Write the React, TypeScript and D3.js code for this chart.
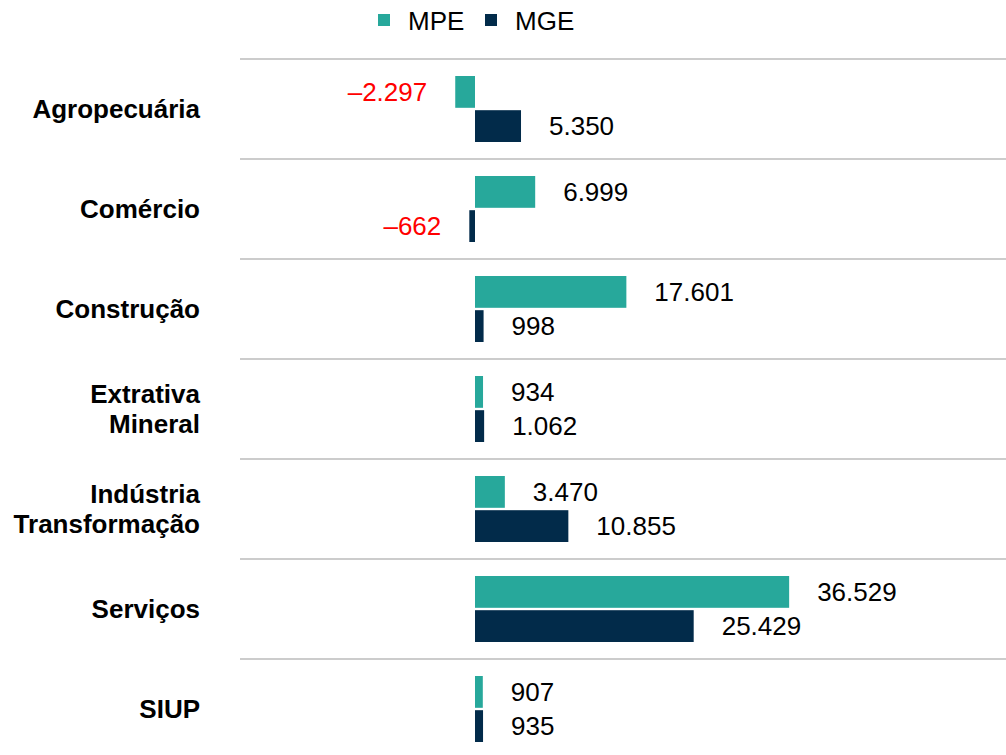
import React from 'react';
import * as d3 from 'd3';

const categories = [
  ['Agropecuária'],
  ['Comércio'],
  ['Construção'],
  ['Extrativa', 'Mineral'],
  ['Indústria', 'Transformação'],
  ['Serviços'],
  ['SIUP'],
];
const seriesNames = ['MPE', 'MGE'];
const mpe = [-2297, 6999, 17601, 934, 3470, 36529, 907];
const mge = [5350, -662, 998, 1062, 10855, 25429, 935];

const colors = ['#27a89b', '#022b4a'];
const W = 1006;
const H = 755;
const font = '"Liberation Sans", Arial, sans-serif';
const fs = 26;

const fmt = d3.formatLocale({
  decimal: ',',
  thousands: '.',
  grouping: [3],
  currency: ['R$', ''],
  minus: '\u2013',
}).format(',d');

export default function App() {
  const keys = categories.map((c) => c.join(' '));
  const y0 = d3.scaleBand().domain(keys).range([59, 759]);
  const y1 = d3.scaleBand().domain(seriesNames).range([17, 83]).paddingInner(0.07);
  const x = d3.scaleLinear().domain([0, 40000]).range([475, 819]);
  const values = [mpe, mge];

  return (
    <svg width={W} height={H} style={{ position: 'absolute', left: 0, top: 0 }} fontFamily={font}>
      {/* legend */}
      {seriesNames.map((s, i) => {
        const lx = i === 0 ? 378 : 485;
        return (
          <g key={s}>
            <rect x={lx} y={14} width={12} height={12} fill={colors[i]} />
            <text x={lx + 30} y={21} dy="0.35em" fontSize={fs} fill="#000">{s}</text>
          </g>
        );
      })}

      {/* separators */}
      {keys.map((k) => (
        <line key={k} x1={240} x2={W} y1={y0(k)!} y2={y0(k)!} stroke="#cccccc" strokeWidth={2} />
      ))}

      {keys.map((k, ci) => {
        const band = y0(k)!;
        const mid = band + y0.bandwidth() / 2;
        const lines = categories[ci];
        return (
          <g key={k}>
            <text x={200} y={mid} fontSize={fs} fontWeight="bold" textAnchor="end" fill="#000">
              {lines.map((l, li) => (
                <tspan key={l} x={200} y={mid + (li - (lines.length - 1) / 2) * 30} dy="0.35em">{l}</tspan>
              ))}
            </text>
            {seriesNames.map((s, si) => {
              const v = values[si][ci];
              const by = band + y1(s)!;
              const x0 = x(Math.min(0, v));
              const w = Math.abs(x(v) - x(0));
              const neg = v < 0;
              return (
                <g key={s}>
                  <rect x={x0} y={by} width={w} height={y1.bandwidth()} fill={colors[si]} />
                  <text
                    x={neg ? x(v) - 28 : x(v) + 28}
                    y={by + y1.bandwidth() / 2}
                    dy="0.35em"
                    fontSize={fs}
                    textAnchor={neg ? 'end' : 'start'}
                    fill={neg ? '#ff0000' : '#000'}
                  >
                    {fmt(v)}
                  </text>
                </g>
              );
            })}
          </g>
        );
      })}
    </svg>
  );
}
